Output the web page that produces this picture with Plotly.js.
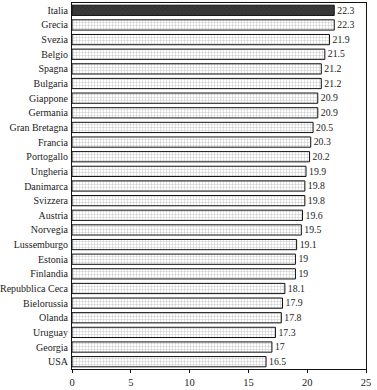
<!DOCTYPE html>
<html>
<head>
<meta charset="utf-8">
<script src="https://cdn.plot.ly/plotly-3.0.1.min.js"></script>
<style>html,body{margin:0;padding:0;background:#fff;}#chart{width:377px;height:390px;}</style>
</head>
<body>
<div id="chart"></div>
<script>
const countries = ["Italia","Grecia","Svezia","Belgio","Spagna","Bulgaria","Giappone","Germania","Gran Bretagna","Francia","Portogallo","Ungheria","Danimarca","Svizzera","Austria","Norvegia","Lussemburgo","Estonia","Finlandia","Repubblica Ceca","Bielorussia","Olanda","Uruguay","Georgia","USA"];
const values = [22.3,22.3,21.9,21.5,21.2,21.2,20.9,20.9,20.5,20.3,20.2,19.9,19.8,19.8,19.6,19.5,19.1,19,19,18.1,17.9,17.8,17.3,17,16.5];
const valueLabels = ["22.3","22.3","21.9","21.5","21.2","21.2","20.9","20.9","20.5","20.3","20.2","19.9","19.8","19.8","19.6","19.5","19.1","19","19","18.1","17.9","17.8","17.3","17","16.5"];
const xTicks = [0,5,10,15,20,25];
const highlighted = "Italia";

const hiIdx = countries.map((c,i)=>i).filter(i=>countries[i]===highlighted);
const loIdx = countries.map((c,i)=>i).filter(i=>countries[i]!==highlighted);
const pick = (arr, idx) => idx.map(i=>arr[i]);

const textfont = {family: "Liberation Serif, serif", size: 10.5, color: "#222"};

const traceOthers = {
  type: "bar", orientation: "h",
  y: pick(countries, loIdx), x: pick(values, loIdx), text: pick(valueLabels, loIdx),
  textposition: "outside", cliponaxis: false, textfont: textfont,
  marker: {
    color: "#ffffff",
    line: {color: "#111", width: 1},
    pattern: {shape: "+", fgcolor: "#8c8c8c", bgcolor: "#ffffff", size: 3, solidity: 0.3, fillmode: "overlay"}
  },
  hoverinfo: "none"
};
const traceHi = {
  type: "bar", orientation: "h",
  y: pick(countries, hiIdx), x: pick(values, hiIdx), text: pick(valueLabels, hiIdx),
  textposition: "outside", cliponaxis: false, textfont: textfont,
  marker: {
    color: "#353535",
    line: {color: "#111", width: 1},
    pattern: {shape: "x", fgcolor: "#5a5a5a", size: 3, solidity: 0.2, fillmode: "overlay"}
  },
  hoverinfo: "none"
};

const layout = {
  width: 377, height: 390,
  margin: {l: 72, r: 11, t: 3, b: 21},
  paper_bgcolor: "#fff", plot_bgcolor: "#fff",
  showlegend: false,
  barmode: "overlay",
  bargap: 0.3,
  font: {family: "Liberation Serif, serif", size: 10, color: "#222"},
  xaxis: {
    range: [0, 25], tickvals: xTicks, ticktext: xTicks.map(String),
    showgrid: false, zeroline: false,
    showline: true, linecolor: "#111", linewidth: 1, mirror: true,
    ticks: "outside", ticklen: 3, tickcolor: "#111",
    tickfont: {family: "Liberation Serif, serif", size: 10.5, color: "#222"}
  },
  yaxis: {
    categoryorder: "array", categoryarray: countries,
    autorange: "reversed",
    showgrid: false, zeroline: false,
    showline: true, linecolor: "#111", linewidth: 1, mirror: true,
    ticks: "", ticklen: 0, ticklabelstandoff: 1,
    tickfont: {family: "Liberation Serif, serif", size: 10, color: "#222"}
  }
};

Plotly.newPlot("chart", [traceOthers, traceHi], layout, {displayModeBar: false, staticPlot: true});
</script>
</body>
</html>
